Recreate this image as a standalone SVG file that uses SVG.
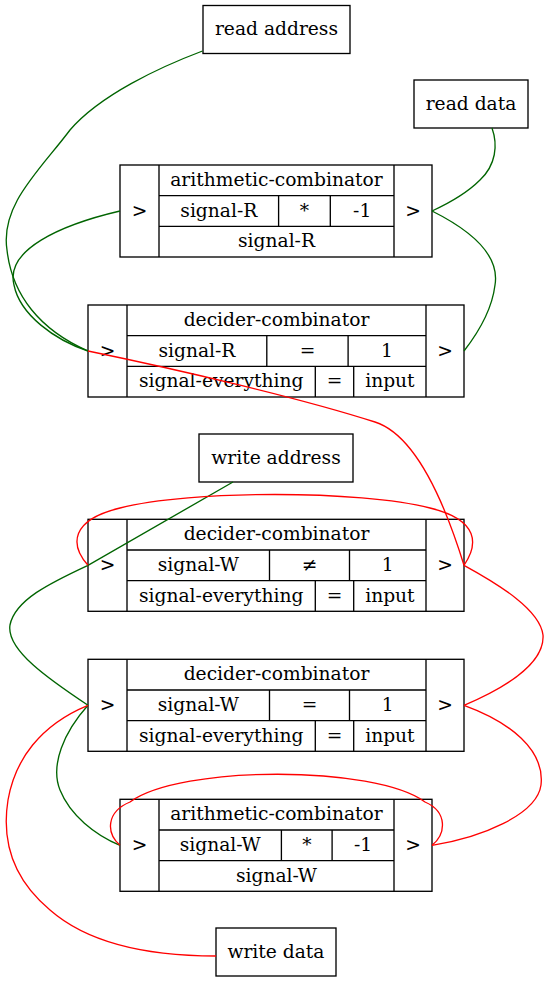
<svg xmlns="http://www.w3.org/2000/svg" width="548" height="982" viewBox="0 0 548 982">
<style>
.b{fill:none;stroke:#000;stroke-width:1.33}
.t{font-family:"DejaVu Serif","Liberation Serif",serif;font-size:18.67px;fill:#000;text-anchor:middle}
.g{fill:none;stroke:#006400;stroke-width:1.33}
.r{fill:none;stroke:#ff0000;stroke-width:1.33}
</style>
<rect x="0" y="0" width="548" height="982" fill="#fff"/>
<g id="read_address">
<rect class="b" x="203" y="5.5" width="147" height="48"/>
<text class="t" x="276.5" y="35.3">read address</text>
</g>
<g id="read_data">
<rect class="b" x="414" y="80" width="114" height="48"/>
<text class="t" x="471" y="109.6">read data</text>
</g>
<g id="arith_R">
<rect class="b" x="120" y="165" width="312" height="92"/>
<path class="b" d="M159,165V257M394,165V257M159,195.7H394M159,226.3H394M278.6,195.7V226.3M330.3,195.7V226.3"/>
<text class="t" x="139.5" y="216.6">&gt;</text>
<text class="t" x="276.5" y="186">arithmetic-combinator</text>
<text class="t" x="218.8" y="216.6">signal-R</text>
<text class="t" x="304.5" y="216.6">*</text>
<text class="t" x="362.2" y="216.6">-1</text>
<text class="t" x="276.5" y="247.3">signal-R</text>
<text class="t" x="413" y="216.6">&gt;</text>
</g>
<g id="decider_R">
<rect class="b" x="88" y="305" width="376" height="92"/>
<path class="b" d="M127,305V397M426,305V397M127,335.7H426M127,366.3H426M266.8,335.7V366.3M348.1,335.7V366.3M315.3,366.3V397M353.7,366.3V397"/>
<text class="t" x="107.5" y="356.6">&gt;</text>
<text class="t" x="276.5" y="326">decider-combinator</text>
<text class="t" x="196.9" y="356.6">signal-R</text>
<text class="t" x="307.5" y="356.6">=</text>
<text class="t" x="387" y="356.6">1</text>
<text class="t" x="221.2" y="387.3">signal-everything</text>
<text class="t" x="334.5" y="387.3">=</text>
<text class="t" x="389.9" y="387.3">input</text>
<text class="t" x="445" y="356.6">&gt;</text>
</g>
<g id="write_address">
<rect class="b" x="199" y="434" width="154" height="48"/>
<text class="t" x="276" y="463.6">write address</text>
</g>
<g id="decider_W1">
<rect class="b" x="88" y="519.3" width="376" height="92"/>
<path class="b" d="M127,519.3V611.3M426,519.3V611.3M127,550H426M127,580.7H426M269.5,550V580.7M349.5,550V580.7M315.3,580.7V611.3M353.7,580.7V611.3"/>
<text class="t" x="107.5" y="570.9">&gt;</text>
<text class="t" x="276.5" y="540.3">decider-combinator</text>
<text class="t" x="198.3" y="570.9">signal-W</text>
<text class="t" x="309.5" y="570.9">≠</text>
<text class="t" x="387.8" y="570.9">1</text>
<text class="t" x="221.2" y="601.6">signal-everything</text>
<text class="t" x="334.5" y="601.6">=</text>
<text class="t" x="389.9" y="601.6">input</text>
<text class="t" x="445" y="570.9">&gt;</text>
</g>
<g id="decider_W2">
<rect class="b" x="88" y="659.3" width="376" height="92"/>
<path class="b" d="M127,659.3V751.3M426,659.3V751.3M127,690H426M127,720.7H426M269.5,690V720.7M349.5,690V720.7M315.3,720.7V751.3M353.7,720.7V751.3"/>
<text class="t" x="107.5" y="710.9">&gt;</text>
<text class="t" x="276.5" y="680.3">decider-combinator</text>
<text class="t" x="198.3" y="710.9">signal-W</text>
<text class="t" x="309.5" y="710.9">=</text>
<text class="t" x="387.8" y="710.9">1</text>
<text class="t" x="221.2" y="741.6">signal-everything</text>
<text class="t" x="334.5" y="741.6">=</text>
<text class="t" x="389.9" y="741.6">input</text>
<text class="t" x="445" y="710.9">&gt;</text>
</g>
<g id="arith_W">
<rect class="b" x="120" y="799.3" width="312" height="92"/>
<path class="b" d="M159,799.3V891.3M394,799.3V891.3M159,830H394M159,860.7H394M281.4,830V860.7M332.1,830V860.7"/>
<text class="t" x="139.5" y="850.9">&gt;</text>
<text class="t" x="276.5" y="820.3">arithmetic-combinator</text>
<text class="t" x="220.2" y="850.9">signal-W</text>
<text class="t" x="306.8" y="850.9">*</text>
<text class="t" x="363" y="850.9">-1</text>
<text class="t" x="276.5" y="881.6">signal-W</text>
<text class="t" x="413" y="850.9">&gt;</text>
</g>
<g id="write_data">
<rect class="b" x="216" y="928" width="120" height="48"/>
<text class="t" x="276" y="957.6">write data</text>
</g>
<g id="connectors">
<path class="g" d="M202.5,51C160,67 100,95 70,130C40,170 0,205 7,250C12,295 40,330 88,351"/>
<path class="g" d="M120,211C60,225 5,250 14,285C20,315 55,340 88,351"/>
<path class="g" d="M492,128C498,145 496,165 480,180C465,195 445,205 432,211"/>
<path class="g" d="M432,211C470,230 500,255 495,285C492,310 478,333 464,351"/>
<path class="g" d="M233,482L88,565.3C50,583 15,600 10,625C6,650 50,680 88,705.3"/>
<path class="g" d="M88,705.3C64,732 50,765 60,790C70,815 95,835 120,845.3"/>
<path class="r" d="M88,351C180,370 300,398 375,422C420,436.4 450,520 464,565.3"/>
<path class="r" d="M88,565.3C70,545 70,520 120,508C190,490 360,490 430,508C480,520 478,545 464,565.3"/>
<path class="r" d="M464,565.3C500,585 540,610 543,635C545,665 500,690 464,705.3"/>
<path class="r" d="M88,705.3C40,725 15,760 8,800C0,850 20,885 50,910C90,945 150,956 216,956"/>
<path class="r" d="M464,705.3C510,722 545,750 541,785C537,815 480,838 432,845.3"/>
<path class="r" d="M120,845.3C106,833 106,812 130,802C180,765 375,765 425,802C448,812 446,834 432,845.3"/>
</g>
</svg>
